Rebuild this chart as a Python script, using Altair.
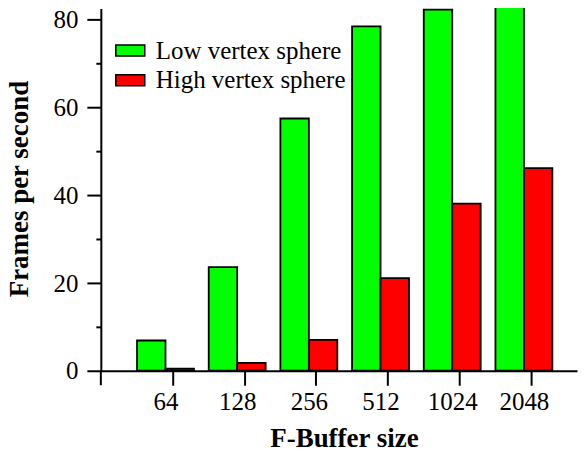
import altair as alt
import pandas as pd

sizes = ["64", "128", "256", "512", "1024", "2048"]
series = ["Low vertex sphere", "High vertex sphere"]
low_fps = [6.9, 23.6, 57.5, 78.5, 82.3, 83.2]
high_fps = [0.5, 1.8, 7.05, 21.1, 38.1, 46.2]
y_ticks = [0, 10, 20, 30, 40, 50, 60, 70, 80]
colors = ["#00ff00", "#ff0000"]

rows = []
for s, lo, hi in zip(sizes, low_fps, high_fps):
    rows.append({"size": s, "series": series[0], "fps": lo})
    rows.append({"size": s, "series": series[1], "fps": hi})
df = pd.DataFrame(rows)

FONT = "Liberation Serif"
W, H = 477, 363

bars = alt.Chart(df).mark_bar(stroke="black", strokeWidth=1.8).encode(
    x=alt.X(
        "size:N", sort=sizes, title="F-Buffer size",
        scale=alt.Scale(paddingInner=0.206, paddingOuter=0.4245, align=0.595, round=False),
        axis=alt.Axis(labelAngle=0, tickSize=14.5, tickWidth=2, domainWidth=2,
                      tickOffset=7, labelOffset=-7, labelPadding=4.4,
                      labelFontSize=25, titleFontSize=27, titleFontWeight="bold",
                      titleX=243.5, titleY=75.7, titleBaseline="alphabetic",
                      titleAlign="center"),
    ),
    xOffset=alt.XOffset("series:N", sort=series,
                        scale=alt.Scale(paddingInner=0, paddingOuter=0)),
    y=alt.Y(
        "fps:Q", title="Frames per second",
        scale=alt.Scale(domain=[0, 82.6], nice=False, zero=True),
        axis=alt.Axis(values=y_ticks,
                      labelExpr="datum.value % 20 === 0 ? datum.label : ''",
                      tickSize={"condition": {"test": "datum.value % 20 === 0", "value": 14}, "value": 5},
                      tickWidth=2, domainWidth=2, labelPadding=9,
                      labelFontSize=25, titleFontSize=27, titleFontWeight="bold",
                      titleX=-73.6, titleY=180.5, titleBaseline="alphabetic",
                      titleAlign="center", titleAngle=270),
    ),
    color=alt.Color(
        "series:N", sort=series,
        scale=alt.Scale(domain=series, range=colors),
        legend=alt.Legend(orient="none", legendX=14, legendY=26.8, title=None,
                          symbolType="M-1,-0.38H1V0.38H-1Z", symbolSize=841,
                          symbolStrokeColor="black", symbolStrokeWidth=1.5,
                          labelFont=FONT, labelFontSize=25, labelOffset=10,
                          labelLimit=0, labelColor="black", rowPadding=0.7, padding=0),
    ),
)

origin_tick = alt.Chart(pd.DataFrame({"v": [0]})).mark_rule(color="black", strokeWidth=2).encode(
    x=alt.value(0), y=alt.value(H), y2=alt.value(H + 14.5)
)

chart = alt.layer(bars, origin_tick).properties(
    width=W, height=H,
    autosize=alt.AutoSizeParams(type="none"),
    padding={"left": 93, "top": 0, "right": 1, "bottom": 83},
).configure_axis(
    labelFont=FONT, titleFont=FONT, domainColor="black", tickColor="black",
    labelColor="black", titleColor="black", grid=False,
).configure_view(stroke=None)

chart.save("out.html", embed_options={"renderer": "svg", "actions": False})
